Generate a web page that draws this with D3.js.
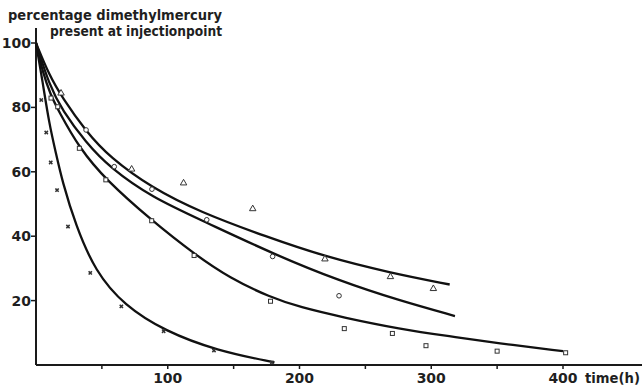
<!DOCTYPE html>
<html lang="en">
  <head>
    <meta charset="utf-8">
    <title>dimethylmercury</title>
    <script src="https://cdn.jsdelivr.net/npm/d3@7"></script>
    <style>
      body { margin: 0; background: #fff; }
      text { font-family: "DejaVu Sans", sans-serif; font-weight: bold; fill: #1f1f1f; }
    </style>
  </head>
  <body>
    <script>

       // curves (time in h, percentage)
       var fastT  = [0, 5, 10, 15, 20, 30, 45, 67, 98, 137, 181];
       var fastV  = [100, 88, 75, 66, 57, 43.5, 29, 18.5, 10.5, 4.5, 0.8];
       var lowT   = [0, 5, 11, 17, 33, 53, 88, 120, 147, 178, 200, 234, 276, 314, 350, 400];
       var lowV   = [100, 91, 84, 79, 67.3, 57.5, 44.8, 34.5, 27, 21, 18, 14.7, 11.2, 8.9, 6.8, 4.3];
       var midT   = [0, 10, 20, 38, 56, 88, 128, 180, 231, 276, 318];
       var midV   = [100, 87, 79, 69, 61.3, 52, 44.5, 34.5, 26, 20, 15.2];
       var topT   = [0, 10, 20, 38, 56, 88, 124, 175, 219, 269, 314];
       var topV   = [100, 90, 83, 72.5, 64.5, 55, 47.6, 39.8, 33.7, 28.6, 25];

       // measured points
       var crossT = [5.5, 9.3, 12.7, 17.5, 25.8, 42.7, 66.3, 98.4, 136.6, 180.6];
       var crossV = [82.3, 72.2, 62.9, 54.3, 43.0, 28.6, 18.2, 10.5, 4.5, 0.8];
       var squareT = [11.4, 16.5, 32.9, 53, 87.8, 120, 178, 234, 270.5, 296, 350, 402];
       var squareV = [82.9, 80.2, 67.3, 57.5, 44.8, 34, 19.8, 11.3, 9.8, 6.0, 4.3, 3.8];
       var circleT = [38, 88, 59.4, 129.6, 179.6, 230];
       var circleV = [73, 54.6, 61.6, 45.1, 33.7, 21.5];
       var triT = [19, 72.6, 112, 164.5, 219.3, 269, 301.6];
       var triV = [84.4, 60.8, 56.5, 48.5, 32.9, 27.4, 23.7];

       var xTicks = [100, 200, 300, 400];
       var xMinor = [50, 150, 250, 350];
       var yTicks = [20, 40, 60, 80, 100];

       var svg = d3.select("body").append("svg")
                   .attr("width", 642)
                   .attr("height", 386);

       var x = d3.scaleLinear().domain([0, 400]).range([36, 563]);
       var y = d3.scaleLinear().domain([0, 100]).range([365, 43]);

       // axes
       svg.append("line").attr("x1", 36).attr("x2", 642).attr("y1", y(0)).attr("y2", y(0))
          .attr("stroke", "#1a1a1a").attr("stroke-width", 2);
       svg.append("line").attr("x1", 36).attr("x2", 36).attr("y1", y(0)).attr("y2", 28)
          .attr("stroke", "#1a1a1a").attr("stroke-width", 2);

       svg.selectAll(".xt").data(xTicks.concat(xMinor)).enter().append("line")
          .attr("x1", function(d) { return x(d); }).attr("x2", function(d) { return x(d); })
          .attr("y1", y(0)).attr("y2", y(0) + 4)
          .attr("stroke", "#1a1a1a").attr("stroke-width", 1.5);

       svg.selectAll(".xl").data(xTicks).enter().append("text")
          .attr("x", function(d) { return x(d); }).attr("y", 383)
          .attr("text-anchor", "middle").attr("font-size", 14)
          .text(function(d) { return d; });

       svg.append("text").attr("x", 585).attr("y", 383).attr("font-size", 14)
          .attr("textLength", 55).attr("lengthAdjust", "spacingAndGlyphs")
          .text("time(h)");

       svg.selectAll(".yt").data(yTicks).enter().append("line")
          .attr("x1", 31).attr("x2", 36)
          .attr("y1", function(d) { return y(d); }).attr("y2", function(d) { return y(d); })
          .attr("stroke", "#1a1a1a").attr("stroke-width", 1.5);

       svg.selectAll(".yl").data(yTicks).enter().append("text")
          .attr("x", 31).attr("y", function(d) { return y(d) + 5; })
          .attr("text-anchor", "end").attr("font-size", 14)
          .text(function(d) { return d; });

       svg.append("text").attr("x", 8).attr("y", 20).attr("font-size", 14)
          .attr("textLength", 214).attr("lengthAdjust", "spacingAndGlyphs")
          .text("percentage dimethylmercury");
       svg.append("text").attr("x", 50).attr("y", 36).attr("font-size", 14)
          .attr("textLength", 172).attr("lengthAdjust", "spacingAndGlyphs")
          .text("present at injectionpoint");

       // fitted curves
       var line = d3.line()
                    .x(function(d) { return x(d[0]); })
                    .y(function(d) { return y(d[1]); })
                    .curve(d3.curveBasis);

       [[fastT, fastV], [lowT, lowV], [midT, midV], [topT, topV]].forEach(function(c) {
         svg.append("path")
            .datum(d3.zip(c[0], c[1]))
            .attr("d", line)
            .attr("fill", "none")
            .attr("stroke", "#111")
            .attr("stroke-width", 2.3);
       });

       // markers
       var g = svg.append("g").attr("stroke", "#333").attr("stroke-width", 1).attr("fill", "#fff");

       g.selectAll(".sq").data(d3.zip(squareT, squareV)).enter().append("rect")
          .attr("x", function(d) { return x(d[0]) - 2; })
          .attr("y", function(d) { return y(d[1]) - 2; })
          .attr("width", 4).attr("height", 4);

       g.selectAll(".ci").data(d3.zip(circleT, circleV)).enter().append("circle")
          .attr("cx", function(d) { return x(d[0]); })
          .attr("cy", function(d) { return y(d[1]); })
          .attr("r", 2.3);

       g.selectAll(".tr").data(d3.zip(triT, triV)).enter().append("path")
          .attr("transform", function(d) { return "translate(" + x(d[0]) + "," + y(d[1]) + ")"; })
          .attr("d", d3.symbol().type(d3.symbolTriangle).size(18));

       g.selectAll(".cr").data(d3.zip(crossT, crossV)).enter().append("path")
          .attr("transform", function(d) { return "translate(" + (x(d[0]) - 2) + "," + y(d[1]) + ") rotate(45)"; })
          .attr("d", d3.symbol().type(d3.symbolCross).size(12))
          .attr("fill", "#333").attr("stroke", "none");

    </script>
  </body>
</html>
